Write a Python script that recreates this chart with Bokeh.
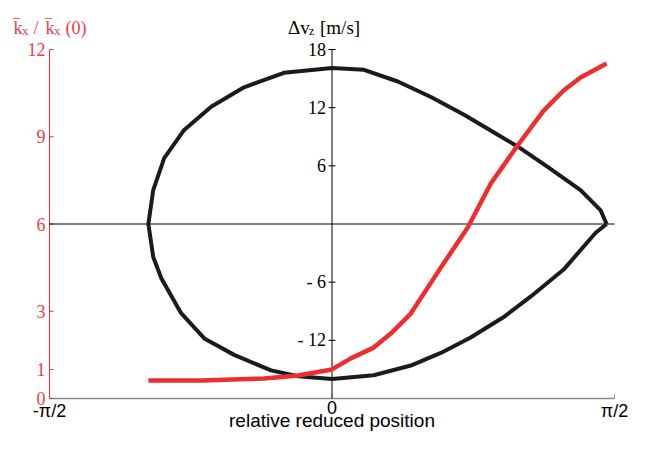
import math
from bokeh.plotting import figure
from bokeh.models import Range1d, Label
from bokeh.embed import file_html
from bokeh.resources import INLINE

HALF_PI = math.pi / 2

# ---- data ----
x_ticks = [-HALF_PI, 0.0, HALF_PI]
x_tick_labels = ["-π/2", "0", "π/2"]
x_title = "relative reduced position"
ratio_ticks = [0, 1, 3, 6, 9, 12]
ratio_tick_labels = ["0", "1", "3", "6", "9", "12"]
dv_ticks = [-12, -6, 6, 12, 18]
dv_tick_labels = ["- 12", "- 6", "6", "12", "18"]

# black closed curve: relative reduced position (rad) vs delta v_z (m/s)
loop_x = [1.527, 1.494, 1.382, 1.199, 1.032, 0.922, 0.732, 0.550, 0.366, 0.178,
          0.0, -0.267, -0.489, -0.672, -0.822, -0.933, -0.994, -1.021,
          -0.994, -0.949, -0.839, -0.710, -0.544, -0.339, -0.189,
          0.0, 0.232, 0.438, 0.605, 0.771, 0.955, 1.104, 1.288, 1.466, 1.527]
loop_dv = [0.0, 1.4, 3.5, 5.9, 8.0, 9.2, 11.3, 13.1, 14.7, 15.9,
           16.1, 15.6, 14.1, 12.1, 9.7, 6.8, 3.5, 0.0,
           -3.4, -5.6, -9.2, -11.8, -13.5, -15.1, -15.7,
           -16.0, -15.6, -14.6, -13.3, -11.7, -9.6, -7.5, -4.7, -0.9, 0.0]

# red curve: k_x / k_x(0)
ratio_x = [-1.021, -0.727, -0.377, -0.189, 0.0, 0.105, 0.232, 0.330, 0.438, 0.605,
           0.755, 0.883, 1.032, 1.177, 1.288, 1.382, 1.527]
ratio = [0.62, 0.62, 0.69, 0.79, 1.0, 1.38, 1.75, 2.25, 2.92, 4.50,
         5.88, 7.39, 8.70, 9.90, 10.59, 11.04, 11.52]

RED = "#ee2e2e"
RED_TXT = "#e9403f"
BLACK = "#1b1b1b"
GREY = "#8a8a8a"
SERIF = "Liberation Serif"
SANS = "Liberation Sans"

# ---- layout (pixels) ----
W, H = 634, 437
AX_L, AX_R = 49, 614        # pixel columns of -pi/2 and pi/2
AX_TOP, AX_BOT = 49, 398    # pixel rows of ratio 12 and ratio 0
ppx = (AX_R - AX_L) / math.pi
ppy = (AX_BOT - AX_TOP) / 12.0
x_start = -HALF_PI - AX_L / ppx
x_end = HALF_PI + (W - AX_R) / ppx
y_start = -(H - AX_BOT) / ppy
y_end = 12 + AX_TOP / ppy


def y_at(row):
    return (AX_BOT - row) / ppy


p = figure(width=W, height=H, output_backend="svg", toolbar_location=None,
           x_range=Range1d(x_start, x_end), y_range=Range1d(y_start, y_end),
           x_axis_location=None, y_axis_location=None,
           min_border_left=0, min_border_right=0, min_border_top=0,
           min_border_bottom=0)
p.extra_y_ranges = {"dv": Range1d(3 * (y_start - 6), 3 * (y_end - 6))}
p.outline_line_color = None
p.grid.visible = False
p.background_fill_color = "white"
p.border_fill_color = "white"

# bottom x axis (grey)
p.line(x=[x_ticks[0], x_ticks[-1]], y=[0, 0], line_color=GREY, line_width=1.5)
p.ray(x=x_ticks, y=[0] * len(x_ticks), length=4, length_units="screen",
      angle=HALF_PI, line_color=GREY, line_width=1)
p.text(x=x_ticks, y=[y_at(400)] * len(x_ticks), text=x_tick_labels,
       text_align="center", text_baseline="top", text_font={"value": SANS},
       text_font_size="18px", text_color="black")
p.text(x=[0], y=[y_at(420)], text=[x_title], text_align="center",
       text_baseline="middle", text_font={"value": SANS},
       text_font_size="19px", text_color="black")

# left (red) ratio axis
p.line(x=[-HALF_PI, -HALF_PI], y=[ratio_ticks[0], ratio_ticks[-1]],
       line_color=RED, line_width=1)
p.ray(x=[-HALF_PI] * len(ratio_ticks), y=ratio_ticks, length=4,
      length_units="screen", angle=0, line_color=RED, line_width=1)
p.text(x=[-HALF_PI] * len(ratio_ticks), y=ratio_ticks, text=ratio_tick_labels,
       x_offset=-4, text_align="right", text_baseline="middle",
       text_font={"value": SERIF}, text_font_size="18px", text_color=RED_TXT)

# horizontal zero line for delta v
p.line(x=[x_ticks[0], x_ticks[-1]], y=[0, 0], y_range_name="dv",
       line_color="black", line_width=1)

# central delta v axis
p.line(x=[0, 0], y=[3 * (0 - 6), dv_ticks[-1]], y_range_name="dv",
       line_color="black", line_width=1)
p.scatter(x=[0] * len(dv_ticks), y=dv_ticks, y_range_name="dv", marker="dash",
          size=7, line_color="black", line_width=1)
p.text(x=[0] * len(dv_ticks), y=dv_ticks, text=dv_tick_labels, y_range_name="dv",
       x_offset=-6, text_align="right", text_baseline="middle",
       text_font={"value": SERIF}, text_font_size="18px", text_color="black")

# curves
p.line(loop_x, loop_dv, y_range_name="dv", line_color=BLACK, line_width=4,
       line_join="round")
p.line(ratio_x, ratio, line_color=RED, line_width=4.5, line_join="round")


# titles
def lab(text, x, dx, row, size, color):
    p.add_layout(Label(x=x, y=y_at(row), x_offset=dx, text=text,
                       text_align="left", text_baseline="alphabetic",
                       text_font=SERIF, text_font_size=size, text_color=color))


# k_x / k_x(0) with overbars (left of the red axis at -pi/2)
lab("k", -HALF_PI, -36, 27, "18px", RED_TXT)
lab("‾", -HALF_PI, -36, 26, "18px", RED_TXT)
lab("x", -HALF_PI, -27.5, 30, "13px", RED_TXT)
lab("/", -HALF_PI, -16, 27, "18px", RED_TXT)
lab("k", -HALF_PI, -4, 27, "18px", RED_TXT)
lab("‾", -HALF_PI, -4, 26, "18px", RED_TXT)
lab("x", -HALF_PI, 4.5, 30, "13px", RED_TXT)
lab("(0)", -HALF_PI, 16, 27, "18px", RED_TXT)

# delta v_z [m/s] above the central axis
lab("Δv", 0, -44, 27, "19px", "black")
lab("z", 0, -23, 30, "12px", "black")
lab("[m/s]", 0, -12, 27, "19px", "black")

open("out.html", "w").write(file_html(p, INLINE))
